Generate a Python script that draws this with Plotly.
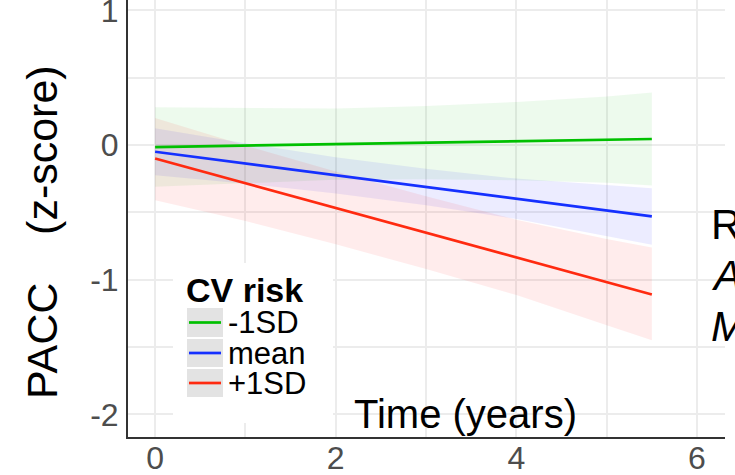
import plotly.graph_objects as go

# ---------------- data ----------------
time_years = [0, 1, 2, 3, 4, 5, 5.5]

series_names = ["-1SD", "mean", "+1SD"]

minus1sd_fit = [-0.015, -0.004, 0.007, 0.018, 0.029, 0.040, 0.045]
minus1sd_upper = [0.28, 0.275, 0.272, 0.29, 0.32, 0.36, 0.39]
minus1sd_lower = [-0.31, -0.283, -0.258, -0.254, -0.262, -0.28, -0.30]

mean_fit = [-0.05, -0.137, -0.225, -0.312, -0.399, -0.486, -0.53]
mean_upper = [0.125, 0.013, -0.09, -0.177, -0.249, -0.296, -0.32]
mean_lower = [-0.225, -0.287, -0.36, -0.447, -0.549, -0.676, -0.74]

plus1sd_fit = [-0.10, -0.284, -0.467, -0.651, -0.834, -1.018, -1.11]
plus1sd_upper = [0.20, -0.004, -0.197, -0.381, -0.554, -0.698, -0.76]
plus1sd_lower = [-0.41, -0.564, -0.737, -0.921, -1.114, -1.338, -1.45]

x_tick_vals = [0, 2, 4, 6]
y_tick_vals = [1, 0, -1, -2]

# ---------------- styles ----------------
line_colors = ["#00c000", "#1530ff", "#ff2a10"]
band_colors = ["rgba(0,180,0,0.07)", "rgba(0,0,255,0.075)", "rgba(255,0,0,0.075)"]
FONT = "Liberation Sans, Arial, sans-serif"

fits = [minus1sd_fit, mean_fit, plus1sd_fit]
uppers = [minus1sd_upper, mean_upper, plus1sd_upper]
lowers = [minus1sd_lower, mean_lower, plus1sd_lower]

fig = go.Figure()

# confidence ribbons
for name, up, lo, bc in zip(series_names, uppers, lowers, band_colors):
    fig.add_trace(go.Scatter(
        x=time_years + time_years[::-1],
        y=up + lo[::-1],
        fill="toself", fillcolor=bc,
        line=dict(width=0), mode="lines",
        hoverinfo="skip", showlegend=False, name=name + " CI",
    ))

# fitted lines
for name, fit, lc in zip(series_names, fits, line_colors):
    fig.add_trace(go.Scatter(
        x=time_years, y=fit, mode="lines",
        line=dict(color=lc, width=2.7), name=name, showlegend=False,
    ))

# ---------------- layout ----------------
W, H = 735, 475
ML, MR, MT, MB = 128, 10, 0, 38
PW, PH = W - ML - MR, H - MT - MB


def px(x):
    return (x - ML) / PW


def py(y):
    return (H - MB - y) / PH


grid_c = "#ececec"
fig.update_layout(
    width=W, height=H,
    margin=dict(l=ML, r=MR, t=MT, b=MB, autoexpand=False),
    paper_bgcolor="white", plot_bgcolor="white",
    font=dict(family=FONT, color="black"),
    showlegend=False,
    xaxis=dict(
        range=[-0.3, 6.31], tickvals=x_tick_vals, ticktext=[str(v) for v in x_tick_vals],
        showgrid=True, gridcolor=grid_c, gridwidth=1.5,
        minor=dict(dtick=1, tick0=0, showgrid=True, gridcolor=grid_c, gridwidth=1.5, ticks=""),
        zeroline=False, showline=True, linecolor="#333333", linewidth=2,
        ticks="", ticklabelstandoff=-8, ticklabeloverflow="allow",
        tickfont=dict(size=32, color="#4d4d4d", family=FONT),
        automargin=False,
    ),
    yaxis=dict(
        range=[-2.168, 1.077], tickvals=y_tick_vals, ticktext=[str(v) for v in y_tick_vals],
        showgrid=True, gridcolor=grid_c, gridwidth=1.5,
        minor=dict(dtick=0.5, tick0=0, showgrid=True, gridcolor=grid_c, gridwidth=1.5, ticks=""),
        zeroline=False, showline=True, linecolor="#333333", linewidth=2,
        ticks="", ticklabelstandoff=1, ticklabeloverflow="allow",
        tickfont=dict(size=32, color="#4d4d4d", family=FONT),
        automargin=False,
    ),
)

shapes = []
# legend background (white box covering gridlines)
shapes.append(dict(type="rect", xref="paper", yref="paper",
                   x0=px(173), x1=px(333), y0=py(423), y1=py(263),
                   fillcolor="white", line=dict(width=0), layer="above"))
key_rows = [(308, 337), (339, 367), (369, 397)]
for (y0, y1), lc in zip(key_rows, line_colors):
    shapes.append(dict(type="rect", xref="paper", yref="paper",
                       x0=px(187), x1=px(223), y0=py(y1), y1=py(y0),
                       fillcolor="#e3e3e3", line=dict(width=0), layer="above"))
    yc = (y0 + y1) / 2
    shapes.append(dict(type="line", xref="paper", yref="paper",
                       x0=px(189), x1=px(221), y0=py(yc), y1=py(yc),
                       line=dict(color=lc, width=2.7), layer="above"))
fig.update_layout(shapes=shapes)

ann = []
ann.append(dict(text="<b>CV risk</b>", xref="paper", yref="paper",
                x=px(184), y=py(290), xanchor="left", yanchor="middle",
                showarrow=False, font=dict(size=34, family=FONT, color="black")))
for (y0, y1), name in zip(key_rows, series_names):
    ann.append(dict(text=name, xref="paper", yref="paper",
                    x=px(226), y=py((y0 + y1) / 2), xanchor="left", yanchor="middle",
                    showarrow=False, font=dict(size=31, family=FONT, color="black")))

# axis titles
ann.append(dict(text="Time (years)", xref="paper", yref="paper",
                x=px(465), y=py(414), xanchor="center", yanchor="middle",
                showarrow=False, font=dict(size=40, family=FONT, color="black")))
ann.append(dict(text="PACC    (z-score)", xref="paper", yref="paper",
                x=px(42), y=py(232), xanchor="center", yanchor="middle",
                textangle=-90, showarrow=False,
                font=dict(size=43, family=FONT, color="black")))

# text cut off at the right edge of the reference
for txt, yc in [("R", 224), ("<i>A</i>", 275), ("<i>M</i>", 327)]:
    ann.append(dict(text=txt, xref="paper", yref="paper",
                    x=px(709), y=py(yc), xanchor="left", yanchor="middle",
                    showarrow=False, font=dict(size=42, family=FONT, color="black")))

fig.update_layout(annotations=ann)

fig.write_html("out.html")
